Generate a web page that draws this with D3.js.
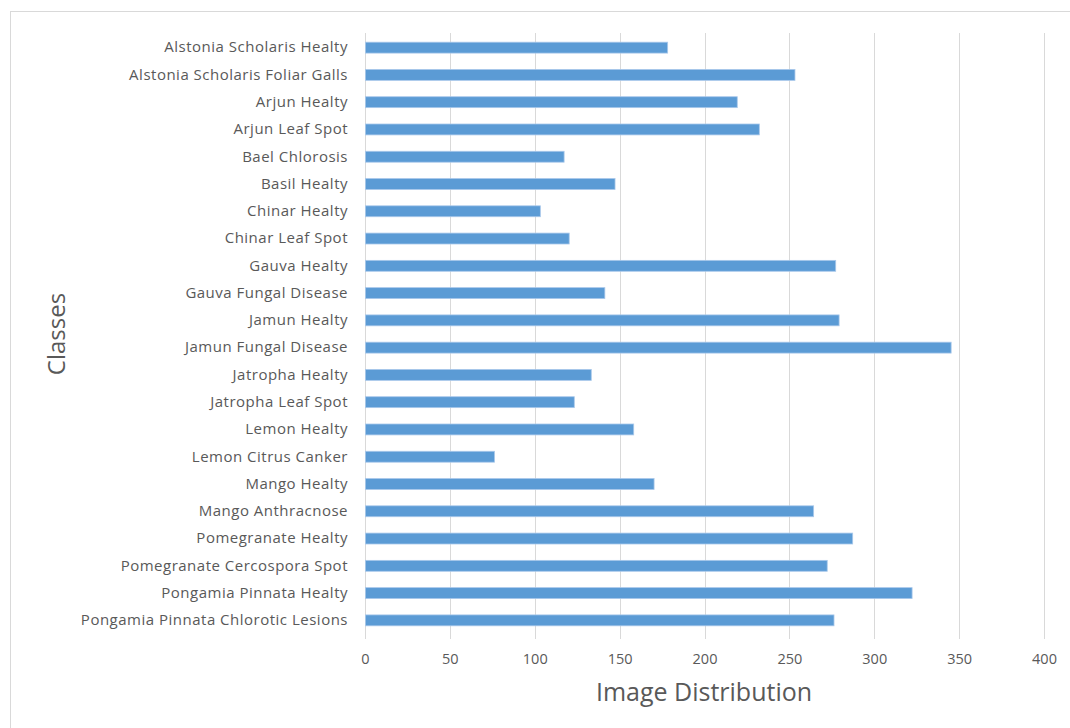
<!DOCTYPE html>
<html>
<head>
<meta charset="utf-8">
<script src="https://cdn.jsdelivr.net/npm/d3@7"></script>
<style>
  html, body { margin: 0; padding: 0; background: #fff; }
  svg { display: block; }
</style>
</head>
<body>
<svg id="chart" width="1070" height="728"></svg>
<script>
// Class names, top to bottom
const categories = [
  "Alstonia Scholaris Healty",
  "Alstonia Scholaris Foliar Galls",
  "Arjun Healty",
  "Arjun Leaf Spot",
  "Bael Chlorosis",
  "Basil Healty",
  "Chinar Healty",
  "Chinar Leaf Spot",
  "Gauva Healty",
  "Gauva Fungal Disease",
  "Jamun Healty",
  "Jamun Fungal Disease",
  "Jatropha Healty",
  "Jatropha Leaf Spot",
  "Lemon Healty",
  "Lemon Citrus Canker",
  "Mango Healty",
  "Mango Anthracnose",
  "Pomegranate Healty",
  "Pomegranate Cercospora Spot",
  "Pongamia Pinnata Healty",
  "Pongamia Pinnata Chlorotic Lesions"
];

// Number of images per class
const imageCounts = [178, 253, 219, 232, 117, 147, 103, 120, 277, 141, 279, 345,
                     133, 123, 158, 76, 170, 264, 287, 272, 322, 276];

const xTicks = [0, 50, 100, 150, 200, 250, 300, 350, 400];

const xTitle = "Image Distribution";
const yTitle = "Classes";

const svg = d3.select("#chart");
const font = "'Open Sans', sans-serif";
const textColor = "#595959";

// chart frame
svg.append("rect")
  .attr("x", 10.5).attr("y", 11.5)
  .attr("width", 1100).attr("height", 760)
  .attr("fill", "#fff")
  .attr("stroke", "#d9d9d9")
  .attr("stroke-width", 1);

const plot = { left: 365, right: 1044, top: 34, bottom: 634 };

const x = d3.scaleLinear().domain([0, 400]).range([plot.left, plot.right]);
const y = d3.scaleBand().domain(categories).range([plot.top, plot.bottom])
  .paddingInner(0.6).paddingOuter(0.3);

// vertical gridlines
svg.append("g")
  .selectAll("line")
  .data(xTicks)
  .join("line")
  .attr("x1", d => Math.round(x(d)) + 0.5)
  .attr("x2", d => Math.round(x(d)) + 0.5)
  .attr("y1", plot.top - 1)
  .attr("y2", plot.bottom + 5)
  .attr("stroke", "#d9d9d9")
  .attr("stroke-width", 1);

// bars
svg.append("g")
  .selectAll("rect")
  .data(categories.map((c, i) => ({ c, v: imageCounts[i] })))
  .join("rect")
  .attr("x", x(0) + 0.5)
  .attr("y", d => y(d.c))
  .attr("width", d => x(d.v) - x(0))
  .attr("height", y.bandwidth())
  .attr("fill", "#5b9bd5")
  .attr("stroke", "#a9c8ea")
  .attr("stroke-width", 0.8);

// x axis tick labels
const xAxis = d3.axisBottom(x).tickValues(xTicks).tickSize(0).tickPadding(0);
const gx = svg.append("g")
  .attr("transform", `translate(0,${plot.bottom + 20})`)
  .call(xAxis);
gx.select(".domain").remove();
gx.selectAll("text")
  .attr("font-family", font)
  .attr("font-size", 14.5)
  .attr("fill", textColor);

// y axis category labels
const yAxis = d3.axisLeft(y).tickSize(0).tickPadding(0);
const gy = svg.append("g")
  .attr("transform", `translate(${plot.left - 17},0)`)
  .call(yAxis);
gy.select(".domain").remove();
gy.selectAll("text")
  .attr("font-family", font)
  .attr("font-size", 15)
  .attr("letter-spacing", "0.5px")
  .attr("fill", textColor);

// axis titles
svg.append("text")
  .attr("x", 704).attr("y", 701)
  .attr("text-anchor", "middle")
  .attr("font-family", font)
  .attr("font-size", 25)
  .attr("fill", textColor)
  .text(xTitle);

svg.append("text")
  .attr("transform", "translate(65,334) rotate(-90)")
  .attr("text-anchor", "middle")
  .attr("font-family", font)
  .attr("font-size", 24)
  .attr("fill", textColor)
  .text(yTitle);
</script>
</body>
</html>
